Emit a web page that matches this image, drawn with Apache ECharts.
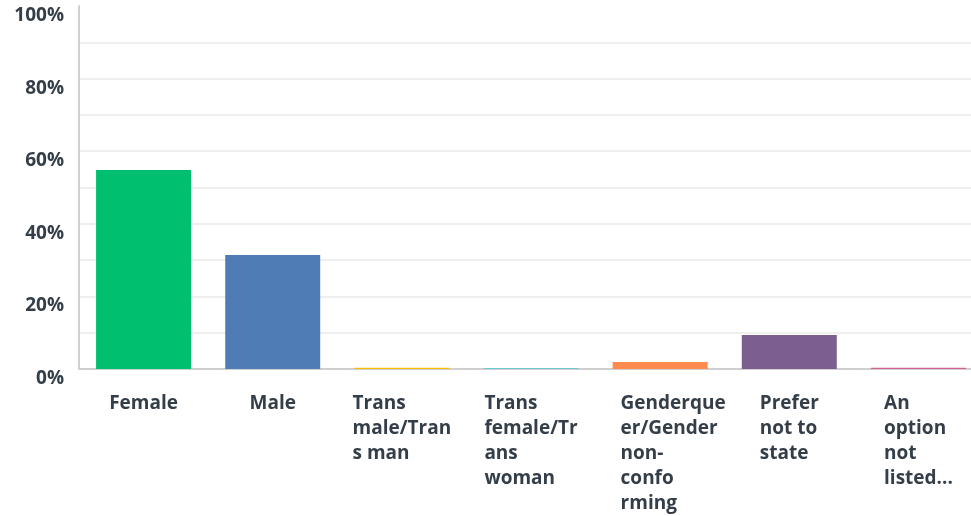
<!DOCTYPE html>
<html>
<head>
<meta charset="utf-8">
<script src="https://cdn.jsdelivr.net/npm/echarts@6/dist/echarts.min.js"></script>
<style>
  html, body { margin: 0; padding: 0; background: #ffffff; overflow: hidden; }
  body { width: 971px; height: 516px; }
  /* the plot runs slightly past the right edge of the window */
  #chart { width: 983px; height: 516px; }
</style>
</head>
<body>
<div id="chart"></div>
<script>
// Answer choices, written with the line breaks used on the axis
const categories = [
  'Female',
  'Male',
  'Trans\nmale/Tran\ns man',
  'Trans\nfemale/Tr\nans\nwoman',
  'Genderque\ner/Gender\nnon-\nconfo\nrming',
  'Prefer\nnot to\nstate',
  'An\noption\nnot\nlisted...'
];

// Share of respondents, in percent
const responses = [54.8, 31.4, 0.35, 0.3, 1.9, 9.4, 0.35];

// Y-axis range and label step
const yMin = 0;
const yMax = 100;
const gridStep = 10;
const labelStep = 20;

const barColors = ['#00bf6f', '#507cb6', '#f9be00', '#6bc8cd', '#ff8b4f', '#7d5e90', '#d25f90'];

const FONT = '"Open Sans", "Liberation Sans", sans-serif';
const TEXT_COLOR = '#333e48';

const labelStyle = {
  align: 'left',
  fontFamily: FONT,
  fontSize: 19,
  fontWeight: 700,
  lineHeight: 25,
  color: TEXT_COLOR
};

const chart = echarts.init(document.getElementById('chart'), null, { renderer: 'canvas' });

chart.setOption({
  animation: false,
  backgroundColor: '#ffffff',
  grid: { left: 79, right: 0, top: 6, bottom: 147, containLabel: false },
  xAxis: {
    type: 'category',
    data: categories,
    axisTick: { show: false },
    axisLine: { show: true, lineStyle: { color: '#cfcfcf', width: 2 } },
    axisLabel: {
      interval: 0,
      margin: 22,
      formatter: function (value) {
        const lines = value.split('\n');
        // the longest wrapped label sits a little to the right of its bar
        const style = lines.length > 4 ? 'p' : 'l';
        return lines.map(function (line) { return '{' + style + '|' + line + '}'; }).join('\n');
      },
      rich: {
        l: labelStyle,
        p: Object.assign({}, labelStyle, { padding: [0, 0, 0, 26] })
      }
    }
  },
  yAxis: {
    type: 'value',
    min: yMin,
    max: yMax,
    interval: gridStep,
    axisLine: { show: true, lineStyle: { color: '#d0d0d0', width: 2 } },
    axisTick: { show: false },
    splitLine: {
      show: true,
      showMinLine: false,
      showMaxLine: false,
      lineStyle: { color: '#efefef', width: 2 }
    },
    axisLabel: {
      margin: 15,
      verticalAlign: 'top',
      lineHeight: 19,
      fontFamily: FONT,
      fontSize: 19,
      fontWeight: 700,
      color: TEXT_COLOR,
      formatter: function (v) { return v % labelStep === 0 ? v + '%' : ''; }
    }
  },
  series: [{
    type: 'bar',
    barWidth: 95,
    data: responses.map(function (v, i) {
      return { value: v, itemStyle: { color: barColors[i] } };
    })
  }]
});
</script>
</body>
</html>
